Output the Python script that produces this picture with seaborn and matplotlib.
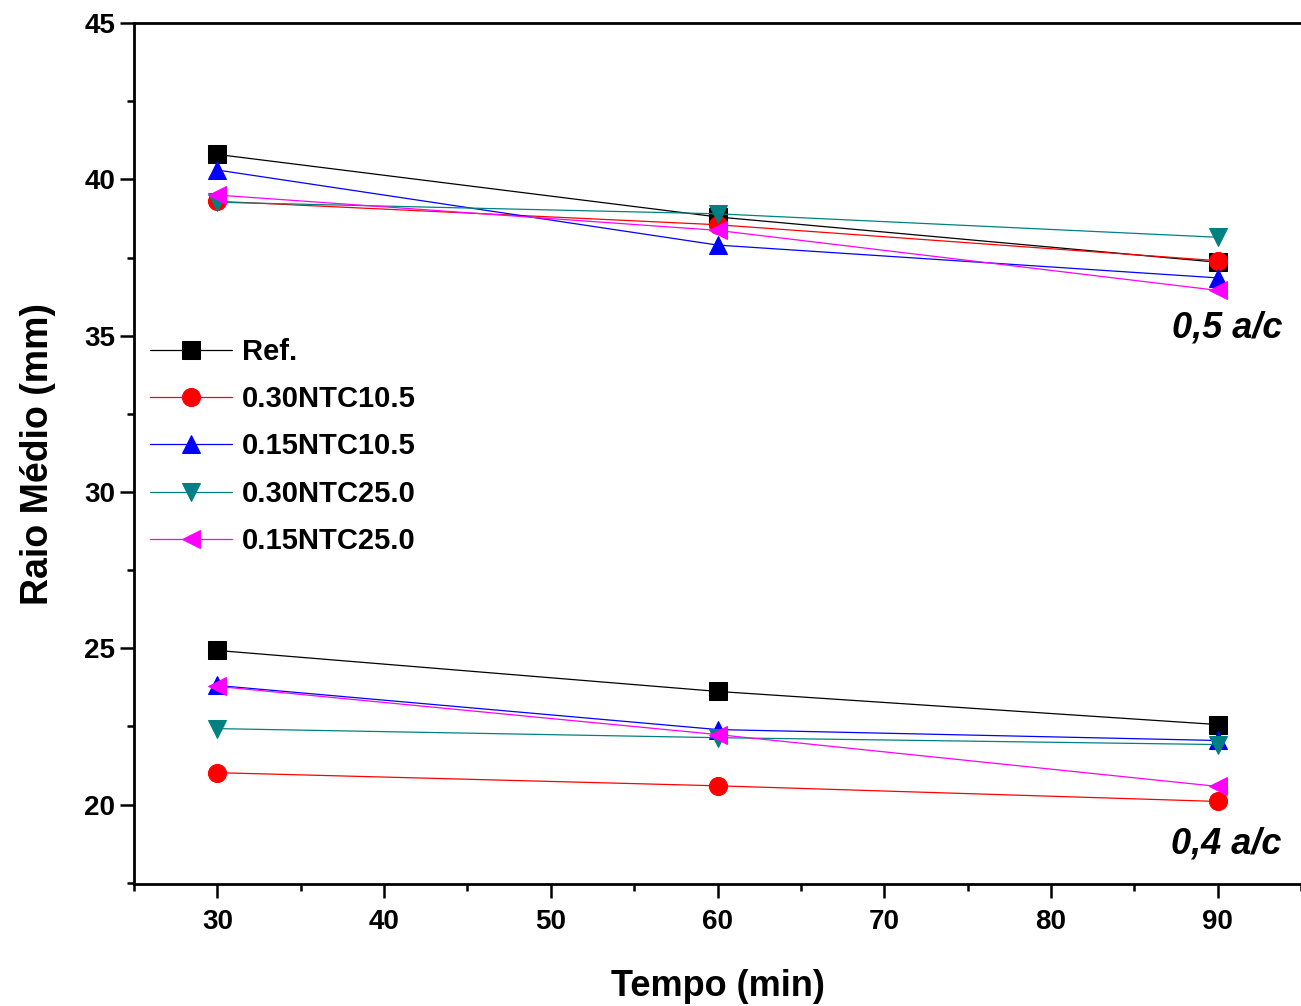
import matplotlib
matplotlib.use("Agg")
import matplotlib.pyplot as plt
import seaborn as sns
import pandas as pd
from matplotlib.ticker import MultipleLocator

tempo = [30, 60, 90]
series_names = ["Ref.", "0.30NTC10.5", "0.15NTC10.5", "0.30NTC25.0", "0.15NTC25.0"]
# a/c = 0,5
ref_05 = [40.80, 38.80, 37.35]
n30_105_05 = [39.30, 38.55, 37.40]
n15_105_05 = [40.30, 37.90, 36.85]
n30_250_05 = [39.27, 38.90, 38.15]
n15_250_05 = [39.50, 38.37, 36.45]
# a/c = 0,4
ref_04 = [24.93, 23.62, 22.56]
n30_105_04 = [21.02, 20.60, 20.10]
n15_105_04 = [23.81, 22.40, 22.05]
n30_250_04 = [22.43, 22.14, 21.92]
n15_250_04 = [23.78, 22.24, 20.58]

colors = ["#000000", "#FF0000", "#0000FF", "#008080", "#FF00FF"]
markers = ["s", "o", "^", "v", "<"]

vals05 = [ref_05, n30_105_05, n15_105_05, n30_250_05, n15_250_05]
vals04 = [ref_04, n30_105_04, n15_105_04, n30_250_04, n15_250_04]

sns.set_style("ticks", {"axes.edgecolor": "black", "xtick.color": "black",
                        "ytick.color": "black", "text.color": "black",
                        "axes.labelcolor": "black"})
plt.rcParams["font.family"] = ["Liberation Sans", "DejaVu Sans"]
plt.rcParams["font.weight"] = "bold"

fig = plt.figure(figsize=(13.01, 10.06), dpi=100)
ax = fig.add_axes([0.103, 0.121, 0.897, 0.856])

for name, c, m, v5, v4 in zip(series_names, colors, markers, vals05, vals04):
    for i, v in enumerate([v5, v4]):
        df = pd.DataFrame({"Tempo": tempo, "Raio": v})
        sns.lineplot(data=df, x="Tempo", y="Raio", ax=ax, color=c, marker=m,
                     markersize=13, markeredgecolor=c, linewidth=0.9,
                     label=name if i == 0 else None, legend=False)

ax.set_xlim(25, 95)
ax.set_ylim(17.45, 45)
ax.xaxis.set_major_locator(MultipleLocator(10))
ax.xaxis.set_minor_locator(MultipleLocator(5))
ax.yaxis.set_major_locator(MultipleLocator(5))
ax.yaxis.set_minor_locator(MultipleLocator(2.5))
ax.tick_params(axis="both", which="major", direction="out", length=10, width=1.8,
               labelsize=20, colors="black")
ax.tick_params(axis="both", which="minor", direction="out", length=5, width=1.8, colors="black")
ax.tick_params(axis="x", pad=8)
for lab in ax.get_xticklabels() + ax.get_yticklabels():
    lab.set_fontweight("bold")
for s in ["left", "bottom", "top"]:
    ax.spines[s].set_linewidth(2.0)
    ax.spines[s].set_color("black")
ax.spines["right"].set_visible(False)

ax.set_xlabel("Tempo (min)", fontsize=26, fontweight="bold", labelpad=24, color="black")
ax.set_ylabel("Raio Médio (mm)", fontsize=27, fontweight="bold", labelpad=20, color="black")

ax.text(90.6, 35.25, "0,5 a/c", fontsize=26, fontweight="bold", fontstyle="italic",
        ha="center", va="center", color="black")
ax.text(90.5, 18.75, "0,4 a/c", fontsize=26, fontweight="bold", fontstyle="italic",
        ha="center", va="center", color="black")

leg = ax.legend(loc="upper left", bbox_to_anchor=(0.0, 0.653), frameon=False,
                fontsize=21, handlelength=2.8, handletextpad=0.35, labelspacing=0.66,
                borderaxespad=0.15)
for t in leg.get_texts():
    t.set_fontweight("bold")
    t.set_color("black")

fig.savefig("out.png", dpi=100)
